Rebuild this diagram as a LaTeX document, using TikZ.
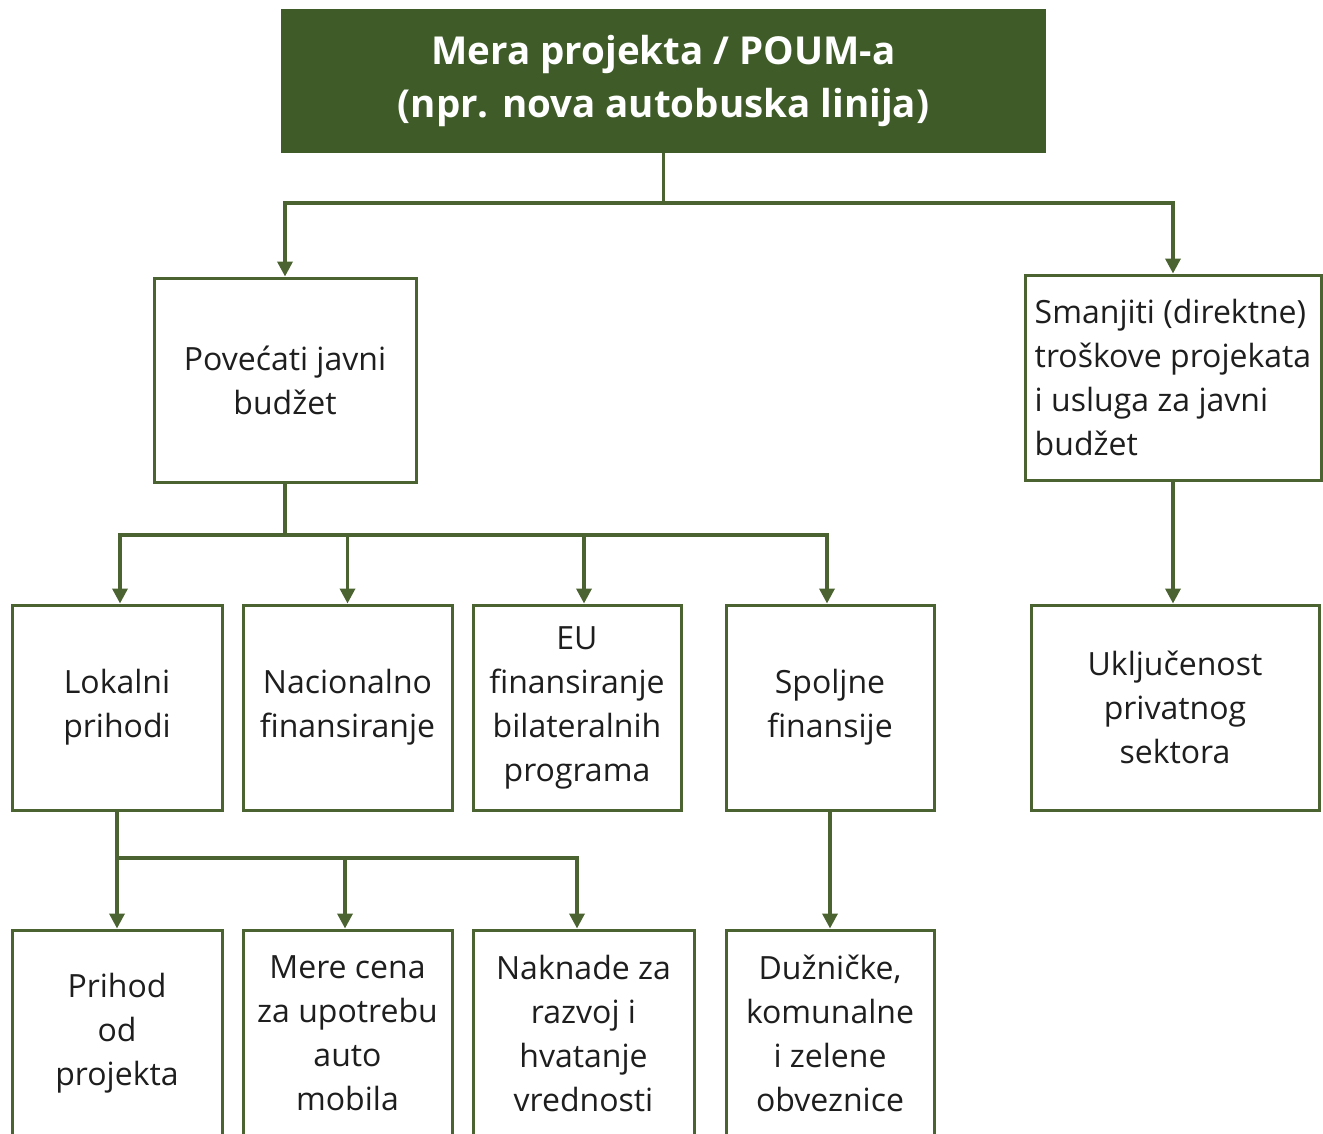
\documentclass[tikz,border=0pt]{standalone}
\usepackage{fontspec}
\setmainfont{Open Sans}
\usetikzlibrary{arrows.meta}
\definecolor{dgreen}{HTML}{3E5B28}
\definecolor{lgreen}{HTML}{4A6330}
\definecolor{txt}{HTML}{1E1E1E}
\begin{document}
\begin{tikzpicture}[x=1pt,y=-1pt,
  box/.style={draw=lgreen, line width=3pt, fill=white, inner sep=0pt, align=center,
    text=txt, font=\fontsize{32}{44}\selectfont},
  conn/.style={draw=lgreen, line width=3.5pt},
  arr/.style={conn, -{Triangle[width=15pt,length=15pt]}}]
\clip (0,0) rectangle (1323,1133);
\fill[white] (0,0) rectangle (1323,1133);
% nodes
\node[fill=dgreen, inner sep=0pt, minimum width=765pt, minimum height=144pt, align=center,
  text=white, font=\bfseries\fontsize{38.5}{53}\selectfont] (top) at (663.5,81)
  {Mera projekta / POUM-a\\(npr. nova autobuska linija)};
\node[box, minimum width=262pt, minimum height=204pt] (pov) at (285,380) {Povećati javni\\budžet};
\node[box, minimum width=296pt, minimum height=205pt, align=left] (sman) at (1173,377.5)
  {Smanjiti (direktne)\\troškove projekata\\i usluga za javni\\budžet};
\node[box, minimum width=210pt, minimum height=205pt] (lok) at (117,707.5) {Lokalni\\prihodi};
\node[box, minimum width=209pt, minimum height=205pt] (nac) at (347.5,707.5) {Nacionalno\\finansiranje};
\node[box, minimum width=208pt, minimum height=205pt] (eu) at (577,707.5) {EU\\finansiranje\\bilateralnih\\programa};
\node[box, minimum width=208pt, minimum height=205pt] (spo) at (830,707.5) {Spoljne\\finansije};
\node[box, minimum width=288pt, minimum height=205pt] (ukl) at (1175,707.5) {Uključenost\\privatnog\\sektora};
\node[box, minimum width=210pt, minimum height=206pt] (pri) at (117,1033) {Prihod\\od\\projekta};
\node[box, minimum width=209pt, minimum height=206pt] (mer) at (347.5,1033) {Mere cena\\za upotrebu\\auto\\mobila};
\node[box, minimum width=221pt, minimum height=206pt] (nak) at (583.5,1033) {Naknade za\\razvoj i\\hvatanje\\vrednosti};
\node[box, minimum width=208pt, minimum height=206pt] (duz) at (830,1033) {Dužničke,\\komunalne\\i zelene\\obveznice};
% connectors
\coordinate (j1) at (663.5,203);
\draw[conn] (top.south) -- (j1);
\draw[arr] (j1) -| (pov.north);
\draw[arr] (j1) -| (sman.north);
\coordinate (j2) at (285,535);
\draw[conn] (pov.south) -- (j2);
\draw[arr] (j2) -| ([xshift=3pt]lok.north);
\draw[arr] (j2) -| (nac.north);
\draw[arr] (j2) -| ([xshift=7pt]eu.north);
\draw[arr] (j2) -| ([xshift=-3pt]spo.north);
\draw[arr] (sman.south) -- (sman.south |- ukl.north);
\coordinate (j3) at (117,858);
\draw[conn] (lok.south) -- (j3);
\draw[arr] (j3) -- (pri.north);
\draw[arr] (j3) -| ([xshift=-2.5pt]mer.north);
\draw[arr] (j3) -| ([xshift=-6.5pt]nak.north);
\draw[arr] (spo.south) -- (duz.north);
\end{tikzpicture}
\end{document}
